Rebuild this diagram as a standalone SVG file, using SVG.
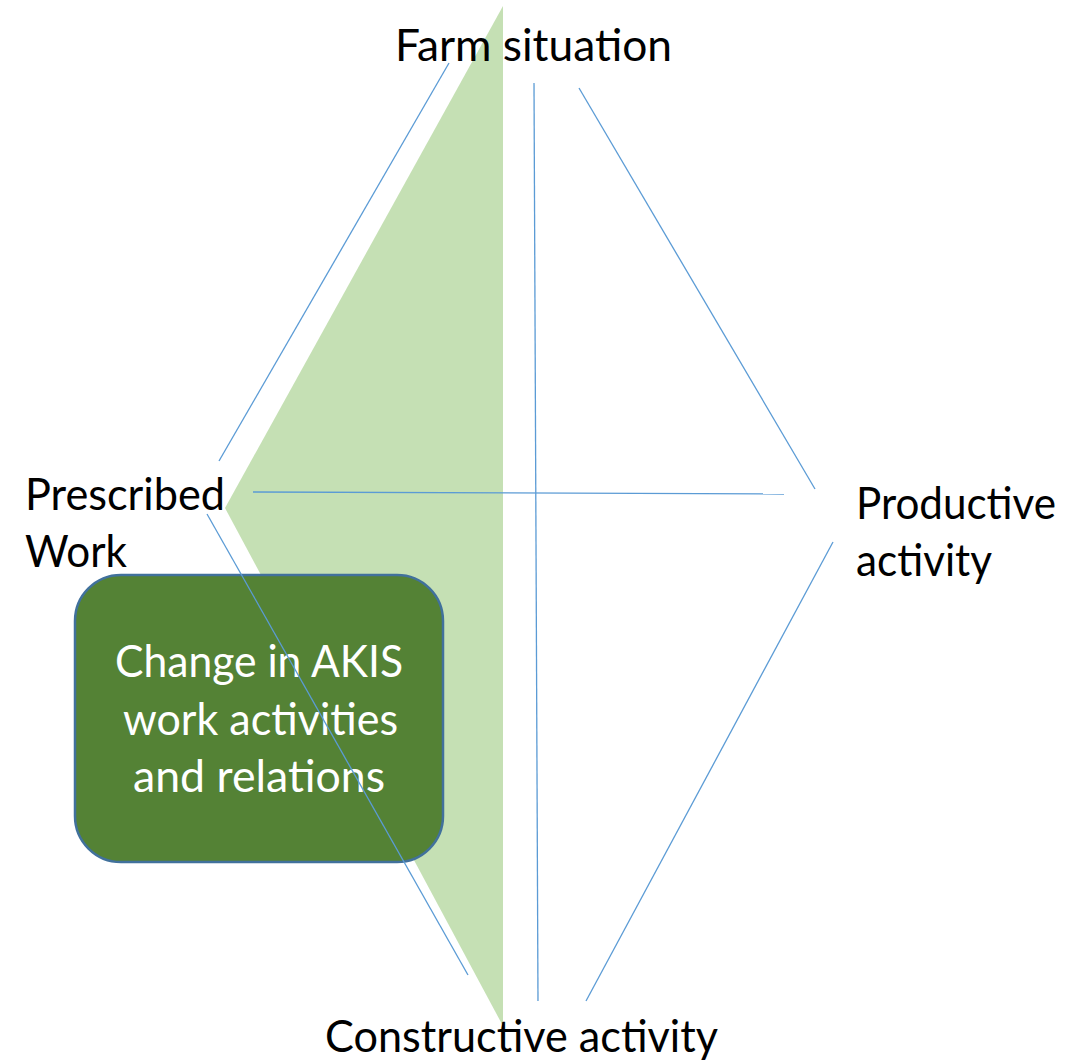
<svg xmlns="http://www.w3.org/2000/svg" width="1066" height="1062" viewBox="0 0 1066 1062">
<style>
.lbl{font-family:Lato,"Open Sans","Liberation Sans",sans-serif;font-size:45px;fill:#000000}
.in{font-family:Lato,"Open Sans","Liberation Sans",sans-serif;font-size:45px;fill:#ffffff}
.ln{stroke:#5B9BD5;stroke-width:1.3;fill:none}
</style>
<rect width="1066" height="1062" fill="#ffffff"/>
<g id="green-wedge">
<polygon points="503,6 225,508 503,1026" fill="#C5E0B4"/>
</g>
<g id="farm-situation">
<text class="lbl" x="395" y="61" textLength="277" lengthAdjust="spacingAndGlyphs">Farm situation</text>
</g>
<g id="prescribed-work">
<text class="lbl" x="25" y="510" textLength="200" lengthAdjust="spacingAndGlyphs">Prescribed</text>
<text class="lbl" x="25" y="567" textLength="102" lengthAdjust="spacingAndGlyphs">Work</text>
</g>
<g id="productive-activity">
<text class="lbl" x="856" y="519" textLength="200" lengthAdjust="spacingAndGlyphs">Productive</text>
<text class="lbl" x="856" y="576" textLength="136" lengthAdjust="spacingAndGlyphs">activity</text>
</g>
<g id="constructive-activity">
<text class="lbl" x="325" y="1052" textLength="393" lengthAdjust="spacingAndGlyphs">Constructive activity</text>
</g>
<g id="change-box">
<rect x="75" y="575" width="368" height="287" rx="46" ry="46" fill="#548235" stroke="#41719C" stroke-width="2.5"/>
<text class="in" x="115" y="677" textLength="288" lengthAdjust="spacingAndGlyphs">Change in AKIS</text>
<text class="in" x="123" y="735" textLength="275" lengthAdjust="spacingAndGlyphs">work activities</text>
<text class="in" x="133" y="792" textLength="252" lengthAdjust="spacingAndGlyphs">and relations</text>
</g>
<g id="connectors">
<line class="ln" x1="449" y1="63" x2="219" y2="461"/>
<line class="ln" x1="207" y1="514" x2="468" y2="975"/>
<line class="ln" x1="253" y1="492" x2="784" y2="494"/>
<line class="ln" x1="534" y1="83" x2="538" y2="1001"/>
<line class="ln" x1="579" y1="88" x2="815" y2="489"/>
<line class="ln" x1="833" y1="542" x2="586" y2="1001"/>
</g>
</svg>
